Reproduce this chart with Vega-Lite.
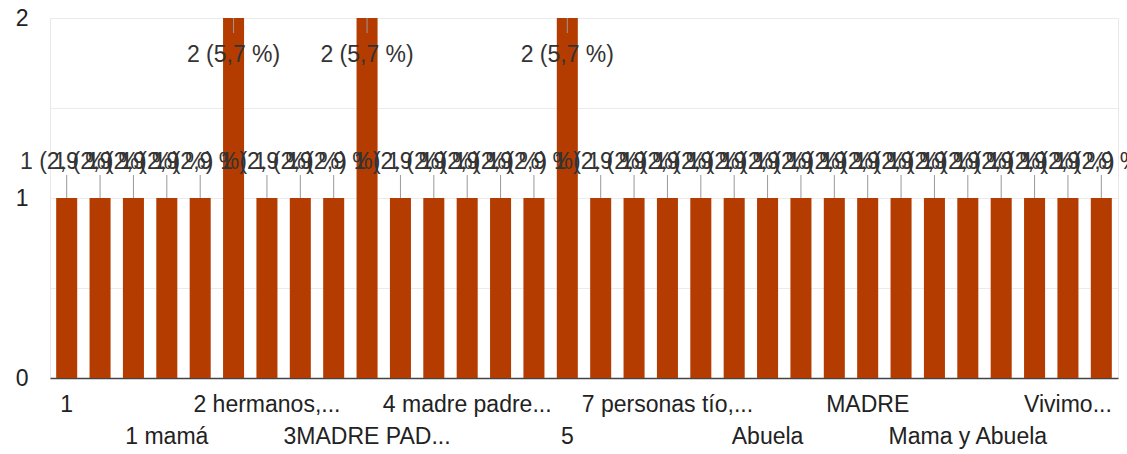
{
  "$schema": "https://vega.github.io/schema/vega-lite/v6.json",
  "autosize": "none",
  "width": 1068,
  "height": 360,
  "padding": {"left": 50, "top": 18, "right": 9, "bottom": 76},
  "background": "white",
  "config": {"view": {"stroke": "#e8e8e8"}, "font": "Liberation Sans"},
  "data": {
    "values": [
      {"answer": "1", "count": 1, "label": "1 (2,9 %)"},
      {"answer": "1 hermana", "count": 1, "label": "1 (2,9 %)"},
      {"answer": "1 hermano", "count": 1, "label": "1 (2,9 %)"},
      {"answer": "1 mamá", "count": 1, "label": "1 (2,9 %)"},
      {"answer": "1 papá", "count": 1, "label": "1 (2,9 %)"},
      {"answer": "2", "count": 2, "label": "2 (5,7 %)"},
      {"answer": "2 hermanos, mamá y papá", "count": 1, "label": "1 (2,9 %)"},
      {"answer": "2 mamá y hermano", "count": 1, "label": "1 (2,9 %)"},
      {"answer": "3", "count": 1, "label": "1 (2,9 %)"},
      {"answer": "3MADRE PADRE HERMANO", "count": 2, "label": "2 (5,7 %)"},
      {"answer": "3 personas", "count": 1, "label": "1 (2,9 %)"},
      {"answer": "4", "count": 1, "label": "1 (2,9 %)"},
      {"answer": "4 madre padre hermanos", "count": 1, "label": "1 (2,9 %)"},
      {"answer": "4 personas", "count": 1, "label": "1 (2,9 %)"},
      {"answer": "4 papá, mamá y hermana", "count": 1, "label": "1 (2,9 %)"},
      {"answer": "5", "count": 2, "label": "2 (5,7 %)"},
      {"answer": "6", "count": 1, "label": "1 (2,9 %)"},
      {"answer": "6 personas", "count": 1, "label": "1 (2,9 %)"},
      {"answer": "7 personas tío, tía y primos", "count": 1, "label": "1 (2,9 %)"},
      {"answer": "8", "count": 1, "label": "1 (2,9 %)"},
      {"answer": "8 personas", "count": 1, "label": "1 (2,9 %)"},
      {"answer": "Abuela", "count": 1, "label": "1 (2,9 %)"},
      {"answer": "Abuela y tía", "count": 1, "label": "1 (2,9 %)"},
      {"answer": "Hermanos", "count": 1, "label": "1 (2,9 %)"},
      {"answer": "MADRE", "count": 1, "label": "1 (2,9 %)"},
      {"answer": "MADRE Y PADRE", "count": 1, "label": "1 (2,9 %)"},
      {"answer": "Mamá", "count": 1, "label": "1 (2,9 %)"},
      {"answer": "Mama y Abuela", "count": 1, "label": "1 (2,9 %)"},
      {"answer": "Mamá y papá", "count": 1, "label": "1 (2,9 %)"},
      {"answer": "Papá", "count": 1, "label": "1 (2,9 %)"},
      {"answer": "Vivimos 4 personas", "count": 1, "label": "1 (2,9 %)"},
      {"answer": "Vivo con mis padres", "count": 1, "label": "1 (2,9 %)"}
    ]
  },
  "encoding": {
    "x": {
      "field": "answer",
      "type": "nominal",
      "sort": null,
      "title": null,
      "scale": {"paddingInner": 0.37, "paddingOuter": 0.185},
      "axis": {
        "labelAngle": 0,
        "labelAlign": "center",
        "labelBaseline": "top",
        "labelOverlap": false,
        "labelLimit": 0,
        "labelFontSize": 23,
        "labelColor": "#222222",
        "labelPadding": 15,
        "labelLineHeight": 32,
        "ticks": false,
        "domainColor": "#444444",
        "domainWidth": 1.5,
        "labelExpr": "['1','','',['','1 mamá'],'','','2 hermanos,...','','',['','3MADRE PAD...'],'','','4 madre padre...','','',['','5'],'','','7 personas tío,...','','',['','Abuela'],'','','MADRE','','',['','Mama y Abuela'],'','','Vivimo...',''][indexof(domain('x'), datum.value)]"
      }
    }
  },
  "layer": [
    {
      "mark": {"type": "bar", "color": "#b43c00"},
      "encoding": {
        "y": {
          "field": "count",
          "type": "quantitative",
          "title": null,
          "scale": {"domain": [0, 2], "nice": false},
          "axis": {
            "values": [0, 0.5, 1, 1.5, 2],
            "labelExpr": "datum.value == 0 ? '0' : datum.value == 1 ? '1' : datum.value == 2 ? '2' : ''",
            "labelOverlap": false,
            "ticks": false,
            "domain": false,
            "gridColor": "#ebebeb",
            "labelFontSize": 23,
            "labelColor": "#222222",
            "labelPadding": 22
          }
        }
      }
    },
    {
      "transform": [{"filter": "datum.count == 1"}],
      "mark": {"type": "point", "shape": "M0,0L0,-1", "size": 2116, "filled": false, "stroke": "#999999", "strokeWidth": 1, "opacity": 1},
      "encoding": {"y": {"field": "count", "type": "quantitative"}}
    },
    {
      "transform": [{"filter": "datum.count == 2"}],
      "mark": {"type": "point", "shape": "M0,0L0,1", "size": 900, "filled": false, "stroke": "#999999", "strokeWidth": 1, "opacity": 1},
      "encoding": {"y": {"field": "count", "type": "quantitative"}}
    },
    {
      "transform": [{"filter": "datum.count == 1"}],
      "mark": {"type": "text", "dy": -36, "fontSize": 23, "color": "#333333", "baseline": "middle", "align": "center"},
      "encoding": {"y": {"field": "count", "type": "quantitative"}, "text": {"field": "label"}}
    },
    {
      "transform": [{"filter": "datum.count == 2"}],
      "mark": {"type": "text", "dy": 37, "fontSize": 23, "color": "#333333", "baseline": "middle", "align": "center"},
      "encoding": {"y": {"field": "count", "type": "quantitative"}, "text": {"field": "label"}}
    }
  ]
}
